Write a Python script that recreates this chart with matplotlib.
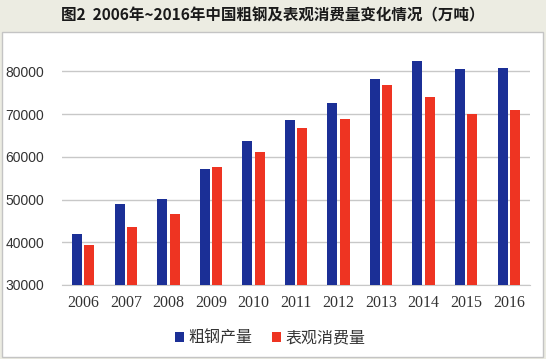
import matplotlib
matplotlib.use("Agg")
import matplotlib.pyplot as plt
from matplotlib.patches import Rectangle
import numpy as np

years = ["2006", "2007", "2008", "2009", "2010", "2011", "2012", "2013", "2014", "2015", "2016"]
crude_steel = [42000, 49000, 50100, 57200, 63800, 68700, 72600, 78100, 82400, 80500, 80900]
consumption = [39300, 43600, 46600, 57500, 61200, 66800, 68800, 76700, 74100, 70000, 71000]
series_names = ["粗钢产量", "表观消费量"]
title = "图2  2006年~2016年中国粗钢及表观消费量变化情况（万吨）"
yticks = [30000, 40000, 50000, 60000, 70000, 80000]

cjk = ["Noto Sans CJK SC", "DejaVu Sans"]
blue = "#1b2f96"
red = "#ee3422"

fig = plt.figure(figsize=(5.46, 3.59), dpi=100)
fig.patch.set_facecolor("#ecece2")

# white panel
panel = Rectangle((2/546, 2/359), 541/546, 325/359, transform=fig.transFigure,
                  facecolor="white", edgecolor="#c4c4c4", linewidth=1.0, zorder=-5)
fig.patches.append(panel)

fig.text(0.5, 1 - 15/359, title, ha="center", va="center", fontsize=11.2,
         fontweight="bold", family=cjk, color="#1a1a1a")

ax = fig.add_axes([62/546, 1 - 285/359, 468/546, 235/359])
ax.set_zorder(2)
ax.set_facecolor("none")
x = np.arange(len(years))
w = 0.235
ax.bar(x - 0.145, crude_steel, width=w, color=blue, label=series_names[0], zorder=3)
ax.bar(x + 0.145, consumption, width=w, color=red, label=series_names[1], zorder=3)

ax.set_ylim(30000, 85000)
ax.set_xlim(-0.5, len(years) - 0.5)
ax.set_yticks(yticks)
ax.set_yticklabels([str(v) for v in yticks], family="Liberation Sans", fontsize=10, color="#333333")
ax.set_xticks(x)
ax.set_xticklabels(years, family="Liberation Serif", fontsize=11.5, color="#333333")
ax.tick_params(axis="both", length=0)
ax.tick_params(axis="y", pad=13)
ax.tick_params(axis="x", pad=7)
ax.grid(axis="y", color="#c8c8c8", linewidth=1.0, zorder=0)
for s in ["top", "right", "left"]:
    ax.spines[s].set_visible(False)
ax.spines["bottom"].set_color("#c8c8c8")

leg = fig.legend(loc="center", bbox_to_anchor=(270/546, 1 - 338/359), ncol=2, frameon=False,
                 prop={"family": cjk, "size": 11.5}, handlelength=0.6, handleheight=0.6,
                 handletextpad=0.25, columnspacing=1.2)
for t in leg.get_texts():
    t.set_color("#333333")

fig.savefig("out.png", dpi=100, facecolor=fig.get_facecolor())
